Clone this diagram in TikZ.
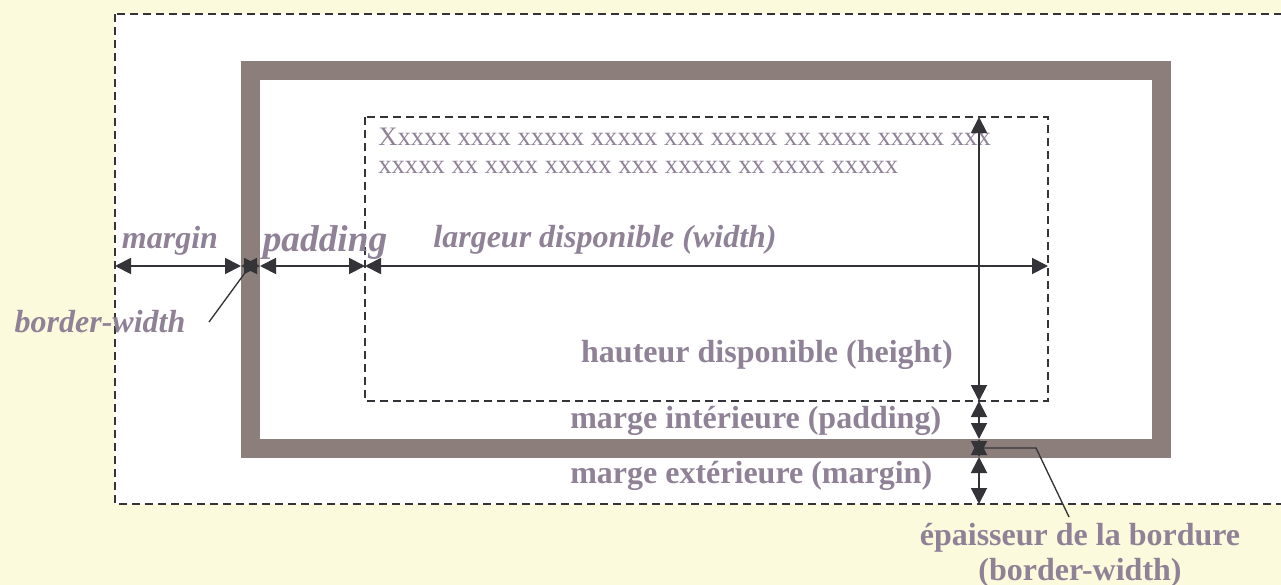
\documentclass[tikz,border=0pt]{standalone}
\usepackage{fontspec}
\setmainfont{Liberation Serif}
\usetikzlibrary{arrows.meta}
\definecolor{bgyellow}{HTML}{FCFADC}
\definecolor{boxborder}{HTML}{8C7F7B}
\definecolor{labelgray}{HTML}{8F8297}
\definecolor{linegray}{HTML}{333338}
\begin{document}
\begin{tikzpicture}[x=0.75pt, y=-0.75pt, >={Triangle[length=12pt,width=12pt]},
    dim/.style={<->, line width=1.4pt, draw=linegray},
    frame/.style={line width=1.4pt, draw=linegray, dash pattern=on 6pt off 3.75pt},
    lbl/.style={text=labelgray, inner sep=0pt, font=\fontsize{24}{26}\selectfont\bfseries},
    ilbl/.style={lbl, font=\fontsize{24}{26}\selectfont\bfseries\itshape}]

    % Page
    \useasboundingbox (0,0) rectangle (1281,585);
    \clip (0,0) rectangle (1281,585);
    \fill[bgyellow] (0,0) rectangle (1281,585);

    % Margin box, border and content box
    \draw[frame, fill=white] (115,14) rectangle (1320,504);
    \draw[boxborder, line width=14.25pt] (250.5,70.5) rectangle (1161,448);
    \draw[frame] (365,117) rectangle (1048,401);

    % Sample text
    \node[anchor=base west, align=left, inner sep=0pt, text=labelgray,
          font=\fontsize{20}{21}\selectfont] (sample) at (378,173)
        {Xxxxx xxxx xxxxx xxxxx xxx xxxxx xx xxxx xxxxx xxx\\
         xxxxx xx xxxx xxxxx xxx xxxxx xx xxxx xxxxx};

    % Horizontal dimensions
    \coordinate (outerL) at (115,266);
    \coordinate (borderL) at (241,266);
    \coordinate (borderLi) at (260,266);
    \coordinate (innerL) at (365,266);
    \coordinate (innerR) at (1048,266);
    \draw[dim] (outerL) -- (borderL);
    \draw[dim] (borderL) -- (borderLi);
    \draw[dim] (borderLi) -- (innerL);
    \draw[dim] (innerL) -- (innerR);

    % Vertical dimensions
    \coordinate (innerT) at (979,117);
    \coordinate (innerB) at (979,401);
    \coordinate (borderBi) at (979,439);
    \coordinate (borderB) at (979,457);
    \coordinate (outerB) at (979,504);
    \draw[dim] (innerT) -- (innerB);
    \draw[dim] (innerB) -- (borderBi);
    \draw[dim] (borderBi) -- (borderB);
    \draw[dim] (borderB) -- (outerB);

    % Labels
    \node[ilbl, anchor=base] (margin) at (170,248) {margin};
    \node[ilbl, anchor=base, font=\fontsize{28}{30}\selectfont\bfseries\itshape] (padding) at (325,251) {padding};
    \node[ilbl, anchor=base] (width) at (605,247) {largeur disponible (width)};
    \node[ilbl, anchor=base] (bw) at (100,332) {border-width};
    \node[lbl, anchor=base] (height) at (767,362) {hauteur disponible (height)};
    \node[lbl, anchor=base west] (pad) at (570,428) {marge intérieure (padding)};
    \node[lbl, anchor=base west] (marg) at (570,483) {marge extérieure (margin)};
    \node[lbl, anchor=base] (thick1) at (1080,545) {épaisseur de la bordure};
    \node[lbl, anchor=base] (thick2) at (1080,580) {(border-width)};

    % Leader lines
    \coordinate (bwleft) at (250,266);
    \coordinate (bwfoot) at (209,322);
    \coordinate (bwbottom) at (979,448);
    \coordinate (bwknee) at (1036,448);
    \coordinate (bwend) at (1069,517);
    \draw[linegray, line width=1pt] (bwfoot) -- (bwleft);
    \draw[linegray, line width=1pt] (bwbottom) -- (bwknee) -- (bwend);

\end{tikzpicture}
\end{document}
